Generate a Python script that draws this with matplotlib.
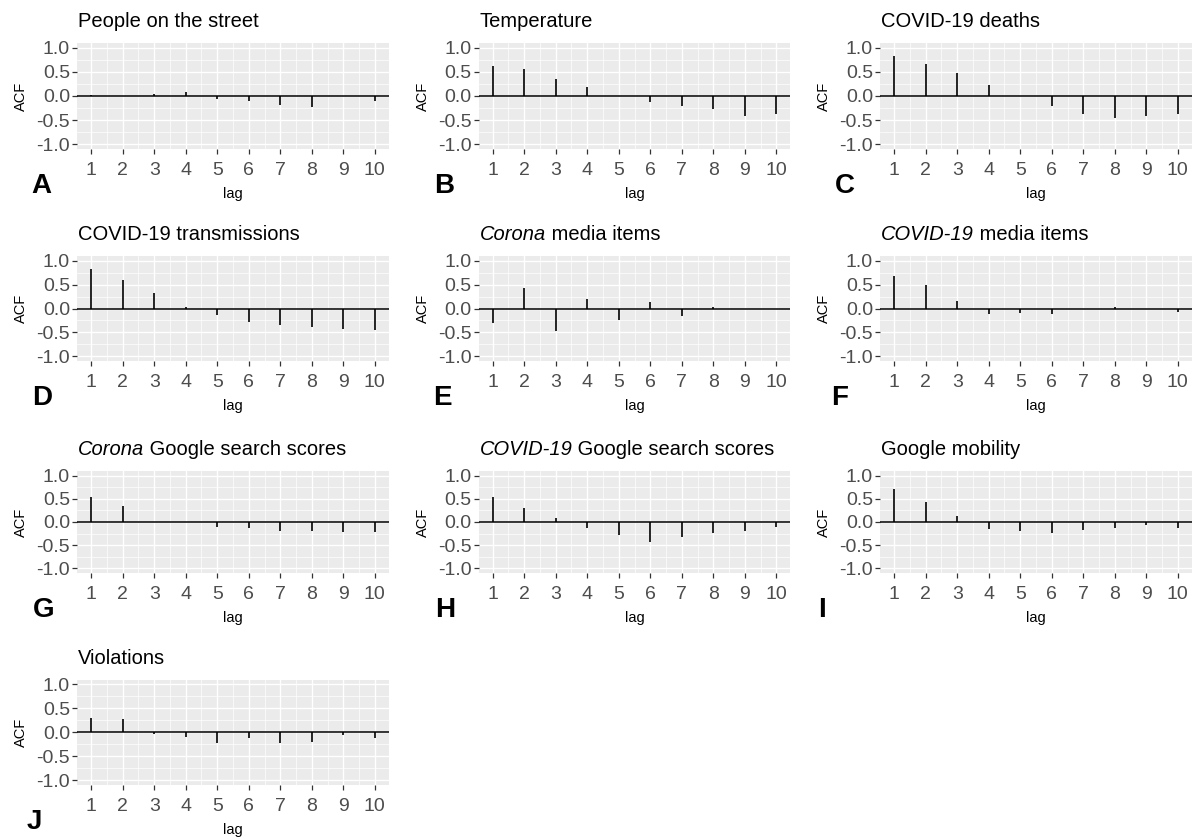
import matplotlib.pyplot as plt
import numpy as np

plt.rcParams['font.family'] = ['Liberation Sans', 'DejaVu Sans']

# autocorrelation values, lags 1..10
lags = np.arange(1, 11)

people_street = [0.03, 0.00, 0.04, 0.09, -0.07, -0.11, -0.18, -0.23, 0.00, -0.10]
temperature = [0.63, 0.57, 0.35, 0.19, 0.00, -0.12, -0.21, -0.28, -0.41, -0.37]
deaths = [0.84, 0.66, 0.47, 0.23, 0.00, -0.21, -0.37, -0.46, -0.42, -0.38]
transmissions = [0.82, 0.59, 0.33, 0.03, -0.13, -0.28, -0.34, -0.39, -0.42, -0.44]
corona_media = [-0.30, 0.43, -0.47, 0.20, -0.24, 0.13, -0.16, 0.04, 0.00, 0.00]
covid_media = [0.69, 0.50, 0.16, -0.11, -0.10, -0.11, 0.00, 0.04, 0.00, -0.07]
corona_search = [0.55, 0.35, 0.00, 0.00, -0.10, -0.13, -0.19, -0.20, -0.22, -0.22]
covid_search = [0.55, 0.30, 0.09, -0.12, -0.28, -0.43, -0.32, -0.24, -0.19, -0.10]
mobility = [0.72, 0.44, 0.12, -0.15, -0.20, -0.24, -0.18, -0.13, -0.07, -0.12]
violations = [0.29, 0.27, -0.03, -0.10, -0.22, -0.12, -0.22, -0.20, -0.05, -0.12]

series = [people_street, temperature, deaths, transmissions, corona_media,
          covid_media, corona_search, covid_search, mobility, violations]

# (italic part, plain part)
titles = [("", "People on the street"), ("", "Temperature"),
          ("", "COVID-19 deaths"), ("", "COVID-19 transmissions"),
          ("Corona", " media items"), ("COVID-19", " media items"),
          ("Corona", " Google search scores"), ("COVID-19", " Google search scores"),
          ("", "Google mobility"), ("", "Violations")]
letters = list("ABCDEFGHIJ")

yticks = [-1.0, -0.5, 0.0, 0.5, 1.0]
ytick_labels = ['-1.0', '-0.5', '0.0', '0.5', '1.0']

W, H = 1196, 839
fig = plt.figure(figsize=(W / 100, H / 100), dpi=100)

col_left = [77, 478.5, 880]
row_top = [43, 256, 471, 679.5]
row_h = [106, 105, 102, 105.6]
pw = 312
letter_dx = [-46, -44, -45, -45, -45, -49, -44, -43, -62, -50]

for i, vals in enumerate(series):
    r, c = divmod(i, 3)
    h = row_h[r]
    ax = fig.add_axes([col_left[c] / W, 1 - (row_top[r] + h) / H, pw / W, h / H])
    ax.set_facecolor('#EBEBEB')
    ax.set_xlim(0.55, 10.45)
    ax.set_ylim(-1.1, 1.1)
    ax.set_xticks(lags)
    ax.set_xticks(np.arange(1.5, 10, 1), minor=True)
    ax.set_yticks(yticks)
    ax.set_yticklabels(ytick_labels)
    ax.set_yticks([-0.75, -0.25, 0.25, 0.75], minor=True)
    ax.grid(which='major', color='white', lw=1.0)
    ax.grid(which='minor', color='white', lw=0.5)
    ax.set_axisbelow(True)
    ax.tick_params(which='minor', length=0)
    ax.tick_params(which='major', length=3.5, width=0.9, color='#333333',
                   labelcolor='#4D4D4D', labelsize=14, pad=1.5)
    ax.tick_params(axis='x', pad=6)
    for s in ax.spines.values():
        s.set_visible(False)

    ax.axhline(0, color='black', lw=1.1)
    ax.vlines(lags, 0, vals, color='black', lw=1.2)

    ax.set_xlabel('lag', fontsize=10.5)
    ax.set_ylabel('ACF', fontsize=10.5)
    ax.xaxis.set_label_coords(0.5, -38 / h)
    ax.yaxis.set_label_coords(-49 / pw, 0.5)

    it, plain = titles[i]
    if it:
        t1 = ax.annotate(it, xy=(0, 1), xycoords='axes fraction', xytext=(1, 16),
                         textcoords='offset pixels', fontsize=14.5, style='italic',
                         ha='left', va='baseline')
        ax.annotate(plain, xy=(1, 0), xycoords=t1, fontsize=14.5,
                    ha='left', va='bottom')
    else:
        ax.annotate(plain, xy=(0, 1), xycoords='axes fraction', xytext=(1, 16),
                    textcoords='offset pixels', fontsize=14.5,
                    ha='left', va='baseline')

    ax.annotate(letters[i], xy=(0, 0), xycoords='axes fraction',
                xytext=(letter_dx[i], -44), textcoords='offset pixels',
                fontsize=20, fontweight='bold', ha='left', va='baseline')

plt.savefig('out.png', dpi=100, facecolor='white')
